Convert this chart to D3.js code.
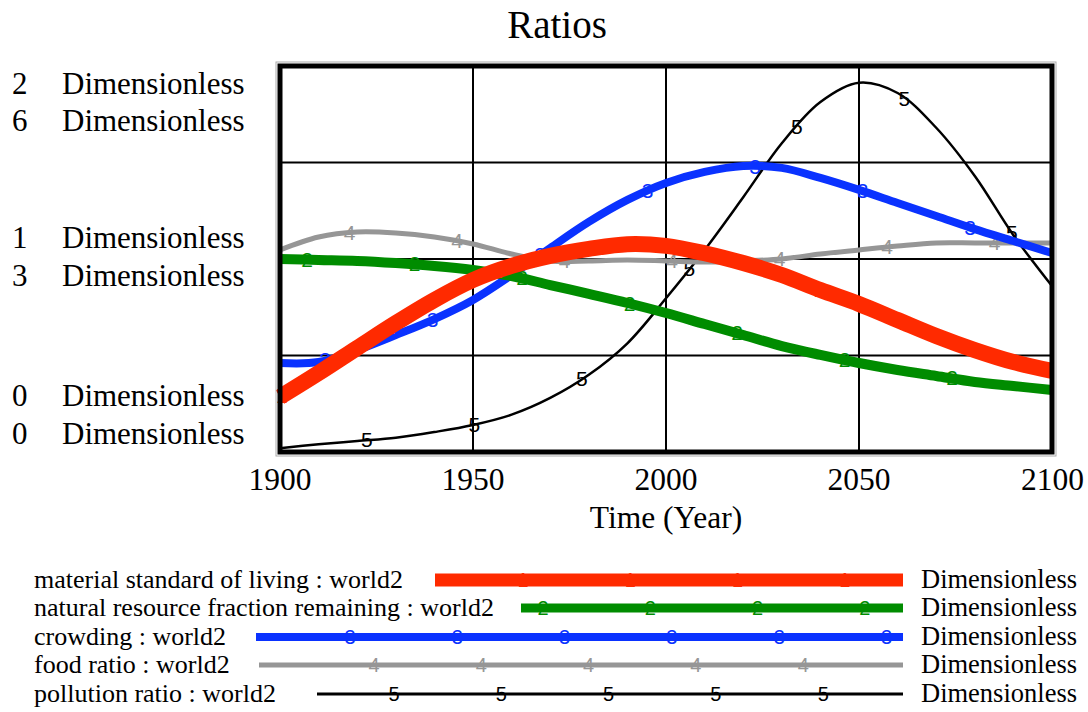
<!DOCTYPE html>
<html>
<head>
<meta charset="utf-8">
<script src="https://cdn.jsdelivr.net/npm/d3@7"></script>
<style>
  body { margin: 0; background: #fff; }
  svg { display: block; }
  text { font-family: "Liberation Serif", "Times New Roman", serif; }
  .mark { font-family: "Liberation Sans", Arial, sans-serif; }
</style>
</head>
<body>
<script>
var width = 1088
var height = 712

// time axis
var years = [1900, 1910, 1920, 1930, 1940, 1950, 1960, 1970, 1980, 1990, 2000,
             2010, 2020, 2030, 2040, 2050, 2060, 2070, 2080, 2090, 2100]
var xTicks = [1900, 1950, 2000, 2050, 2100]

// series values
var materialStd = [0.285, 0.409, 0.539, 0.668, 0.788, 0.891, 0.964, 1.016, 1.052, 1.077, 1.068,
                   1.030, 0.979, 0.917, 0.839, 0.767, 0.684, 0.601, 0.528, 0.466, 0.420]
var resourceFrac = [1.000, 0.995, 0.990, 0.979, 0.964, 0.943, 0.912, 0.865, 0.819, 0.772, 0.720,
                    0.663, 0.606, 0.549, 0.503, 0.461, 0.425, 0.394, 0.363, 0.342, 0.321]
var crowding = [0.461, 0.466, 0.528, 0.606, 0.689, 0.788, 0.917, 1.057, 1.192, 1.306, 1.394,
                1.451, 1.482, 1.472, 1.420, 1.358, 1.290, 1.223, 1.155, 1.093, 1.031]
var foodRatio = [1.047, 1.114, 1.140, 1.135, 1.114, 1.078, 1.026, 0.990, 0.990, 0.995, 0.990,
                 0.984, 0.990, 1.000, 1.026, 1.047, 1.067, 1.083, 1.083, 1.083, 1.083]
var pollution = [0.06, 0.12, 0.17, 0.22, 0.31, 0.42, 0.58, 0.84, 1.20, 1.69, 2.39,
                 3.14, 3.96, 4.80, 5.44, 5.74, 5.58, 5.04, 4.29, 3.37, 2.58]

var seriesNames = ['material standard of living : world2',
                   'natural resource fraction remaining : world2',
                   'crowding : world2',
                   'food ratio : world2',
                   'pollution ratio : world2']
var seriesLabels = ['1', '2', '3', '4', '5']
var unitsLabel = 'Dimensionless'
var scaleMax = [2, 6]

var series = [
  { name: seriesNames[0], label: seriesLabels[0], values: materialStd, scale: 0, color: '#ff2a00', w: 16, lw: 13, off: 0.5, legX: 435, legOff: 88 },
  { name: seriesNames[1], label: seriesLabels[1], values: resourceFrac, scale: 0, color: '#008c00', w: 10, lw: 9, off: 7, legX: 521, legOff: 22 },
  { name: seriesNames[2], label: seriesLabels[2], values: crowding, scale: 0, color: '#0a32ff', w: 8, lw: 8, off: 11.7, legX: 256, legOff: 94 },
  { name: seriesNames[3], label: seriesLabels[3], values: foodRatio, scale: 0, color: '#969696', w: 5, lw: 5, off: 18, legX: 259, legOff: 115 },
  { name: seriesNames[4], label: seriesLabels[4], values: pollution, scale: 1, color: '#000000', w: 2.5, lw: 3, off: 22.5, legX: 317, legOff: 77 }
]

var plot = { left: 280, right: 1052, top: 66, bottom: 452 }

var x = d3.scaleLinear().domain([1900, 2100]).range([plot.left, plot.right])
var yScales = scaleMax.map(function (m) {
  return d3.scaleLinear().domain([0, m]).range([plot.bottom, plot.top])
})

var svg = d3.select('body').append('svg')
    .attr('width', width)
    .attr('height', height)

// title
svg.append('text')
    .attr('x', 557).attr('y', 38)
    .attr('text-anchor', 'middle')
    .style('font-size', '39px')
    .text('Ratios')

// grid
var gridY = [0.5, 1, 1.5]
svg.selectAll('.gy').data(gridY).enter().append('line')
    .attr('x1', plot.left).attr('x2', plot.right)
    .attr('y1', function (d) { return yScales[0](d) })
    .attr('y2', function (d) { return yScales[0](d) })
    .style('stroke', '#000').style('stroke-width', 2)
svg.selectAll('.gx').data(xTicks.slice(1, -1)).enter().append('line')
    .attr('x1', function (d) { return x(d) }).attr('x2', function (d) { return x(d) })
    .attr('y1', plot.top).attr('y2', plot.bottom)
    .style('stroke', '#000').style('stroke-width', 2)

// lines, last series drawn first
svg.append('clipPath').attr('id', 'clip').append('rect')
    .attr('x', plot.left - 8).attr('y', plot.top)
    .attr('width', plot.right - plot.left + 16).attr('height', plot.bottom - plot.top)

var g = svg.append('g').attr('clip-path', 'url(#clip)')

series.slice().reverse().forEach(function (s) {
  var ys = yScales[s.scale]
  var line = d3.line()
      .x(function (d, i) { return x(years[i]) })
      .y(function (d) { return ys(d) })
      .curve(d3.curveCatmullRom.alpha(0.5))
  g.append('path')
      .datum(s.values)
      .attr('d', line)
      .style('fill', 'none')
      .style('stroke', s.color)
      .style('stroke-width', s.w)
      .style('stroke-linejoin', 'round')

  // number labels along the line
  var step = 27.85
  var interp = d3.scaleLinear().domain(years).range(s.values)
  for (var yr = 1900 + s.off; yr <= 2100; yr += step) {
    g.append('text')
        .attr('class', 'mark')
        .attr('x', x(yr)).attr('y', ys(interp(yr)) + 7)
        .attr('text-anchor', 'middle')
        .style('font-size', '21px')
        .style('fill', s.color)
        .text(s.label)
  }
})

// frame
svg.append('rect')
    .attr('x', plot.left - 4).attr('y', plot.top - 4)
    .attr('width', plot.right - plot.left + 8).attr('height', plot.bottom - plot.top + 8)
    .style('fill', 'none').style('stroke', '#aaa').style('stroke-width', 1)
svg.append('rect')
    .attr('x', plot.left).attr('y', plot.top)
    .attr('width', plot.right - plot.left).attr('height', plot.bottom - plot.top)
    .style('fill', 'none').style('stroke', '#000').style('stroke-width', 5)

// x ticks
svg.selectAll('.xt').data(xTicks).enter().append('text')
    .attr('x', function (d) { return x(d) })
    .attr('y', 490)
    .attr('text-anchor', function (d, i) { return i === xTicks.length - 1 ? 'end' : 'middle' })
    .attr('dx', function (d, i) { return i === xTicks.length - 1 ? 32 : 0 })
    .style('font-size', '31.5px')
    .text(function (d) { return d })

svg.append('text')
    .attr('x', 666).attr('y', 528)
    .attr('text-anchor', 'middle')
    .style('font-size', '31.5px')
    .text('Time (Year)')

// y labels: each scale gets top, middle and bottom values
var levels = [
  { frac: 1, dy: [28, 65] },
  { frac: 0.5, dy: [-11, 27] },
  { frac: 0, dy: [-46, -8] }
]
levels.forEach(function (lv) {
  scaleMax.forEach(function (m, k) {
    var by = yScales[k](m * lv.frac) + lv.dy[k]
    svg.append('text').attr('x', 12).attr('y', by)
        .style('font-size', '31px').text(d3.format('~g')(m * lv.frac))
    svg.append('text').attr('x', 62).attr('y', by)
        .style('font-size', '31px').text(unitsLabel)
  })
})

// legend
var legY = [580, 608, 637, 665, 694]
var legRight = 903
series.forEach(function (s, i) {
  var cy = legY[i]
  svg.append('text').attr('x', 34).attr('y', cy + 8)
      .style('font-size', '26px').text(s.name)
  svg.append('line')
      .attr('x1', s.legX).attr('x2', legRight)
      .attr('y1', cy).attr('y2', cy)
      .style('stroke', s.color).style('stroke-width', s.lw)
  for (var lx = s.legX + s.legOff; lx < legRight; lx += 107.3) {
    svg.append('text').attr('class', 'mark')
        .attr('x', lx).attr('y', cy + 7)
        .attr('text-anchor', 'middle')
        .style('font-size', '20px')
        .style('fill', s.color)
        .text(s.label)
  }
  svg.append('text').attr('x', 921).attr('y', cy + 8)
      .style('font-size', '26.5px').text(unitsLabel)
})
</script>
</body>
</html>
